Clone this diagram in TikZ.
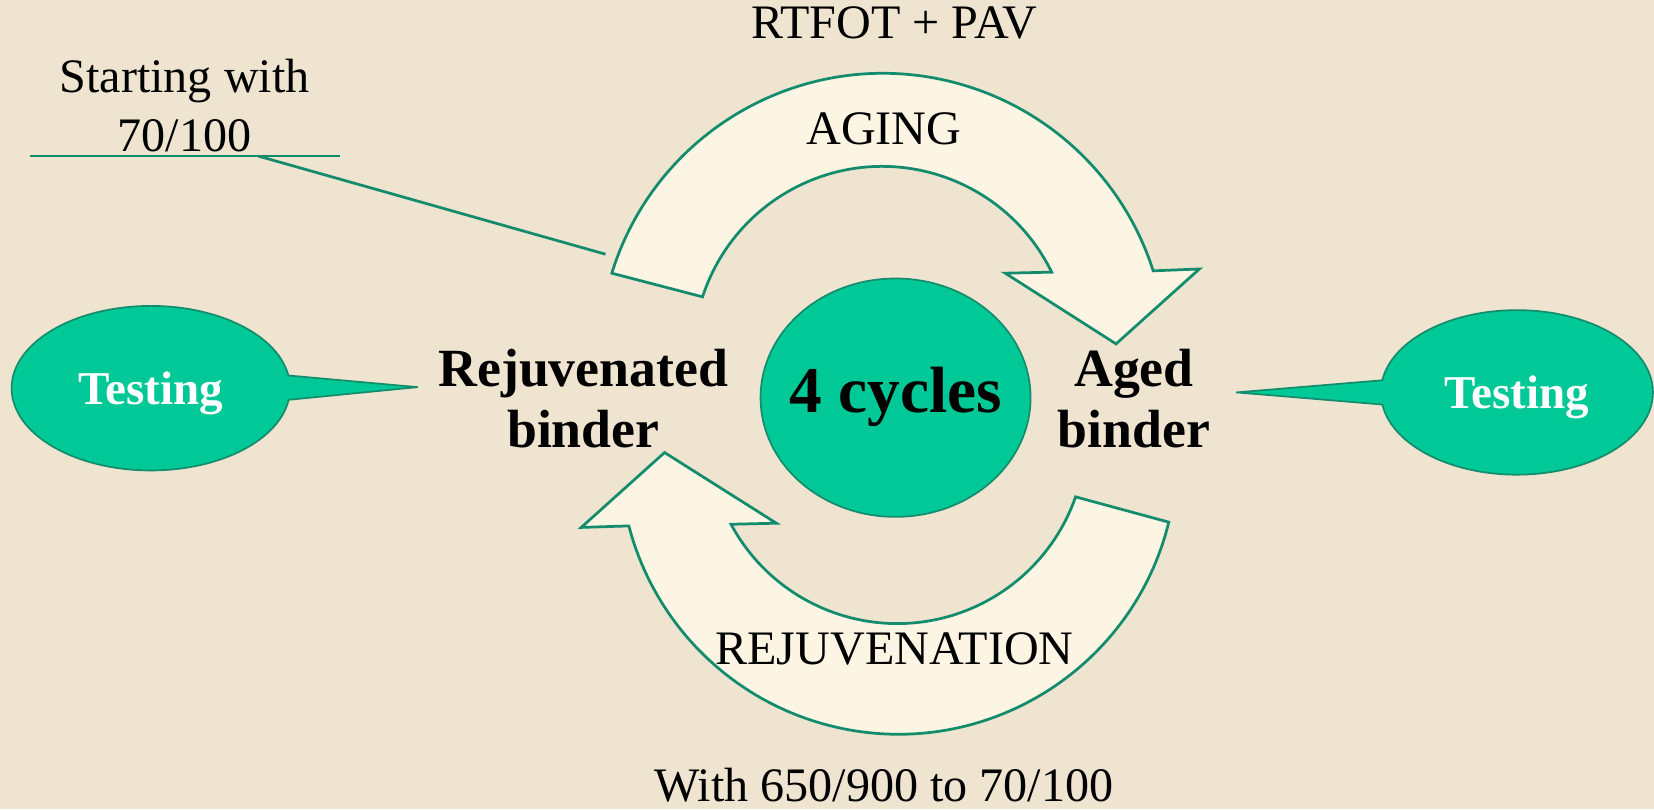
\documentclass[tikz,border=0pt]{standalone}
\usepackage{fontspec}
\setmainfont{Liberation Serif}
\usetikzlibrary{shapes.geometric,shapes.callouts}
\definecolor{paper}{RGB}{238,228,208}
\definecolor{cream}{RGB}{252,245,227}
\definecolor{tealline}{RGB}{18,140,108}
\definecolor{tealfill}{RGB}{0,200,150}
\begin{document}
\begin{tikzpicture}[x=0.5pt, y=0.5pt,
    cycle_arrow/.style={draw=tealline, fill=cream, line width=1.3pt, line join=miter},
    lead_line/.style={draw=tealline, line width=1.3pt},
    plain_text/.style={font=\fontsize{22.8}{28}\selectfont, align=center, inner sep=0pt},
    bold_text/.style={font=\fontsize{25.5}{29}\selectfont\bfseries, align=center, inner sep=0pt},
    test_bubble/.style={ellipse callout, draw=tealline, fill=tealfill, line width=0.8pt, minimum height=78pt, text depth=0pt,
        text=white, font=\fontsize{22.3}{26}\selectfont\bfseries, callout pointer arc=17}
]
\fill[paper] (0,0) rectangle (1568,767);
\useasboundingbox (0,0) rectangle (1568,767);

% aging arrow (top)
\draw[cycle_arrow] (580,508) arc[start angle=162.8, end angle=17.7, radius=269]
    -- (1137,512) -- (1058,441) -- (953,508) -- (997,509)
    arc[start angle=26.1, end angle=162, radius=179] -- cycle;
% rejuvenation arrow (bottom)
\draw[cycle_arrow] (1108,272) arc[start angle=346.2, end angle=194.6, radius=264]
    -- (551,267) -- (630,338) -- (736,271) -- (693,270)
    arc[start angle=208.3, end angle=340.8, radius=179] -- cycle;

\node[ellipse, draw=tealline, fill=tealfill, line width=0.8pt, minimum width=128pt, minimum height=113pt] (cycles) at (849,390) {};
\node[font=\fontsize{31}{34}\selectfont\bfseries, inner sep=0pt, text depth=0pt] (cycles_text) at (849,397) {4 cycles};

\node[bold_text] (rejuv) at (553,389) {Rejuvenated\\binder};
\node[bold_text] (aged) at (1075,389) {Aged\\binder};

\coordinate (tip_left) at (396,400);
\coordinate (tip_right) at (1172,395);
\node[test_bubble, minimum width=132pt, callout absolute pointer={(tip_left)}] (test_left) at (143,399) {Testing};
\node[test_bubble, minimum width=129pt, callout absolute pointer={(tip_right)}] (test_right) at (1438,395) {Testing};

\node[plain_text] (rtfot) at (848,745) {RTFOT + PAV};
\node[plain_text] (aging) at (838,645) {AGING};
\node[plain_text] (rejuvenation) at (848,152) {REJUVENATION};
\node[plain_text] (with) at (838,23) {With 650/900 to 70/100};

% starting note with underline and leader
\node[plain_text] (start) at (175,667) {Starting with\\70/100};
\coordinate (under_left) at (28,619);
\coordinate (under_right) at (322,619);
\coordinate (under_mid) at (245,619);
\coordinate (arrow_tail) at (574,526);
\draw[lead_line] (under_left) -- (under_right);
\draw[lead_line] (under_mid) -- (arrow_tail);
\end{tikzpicture}
\end{document}
